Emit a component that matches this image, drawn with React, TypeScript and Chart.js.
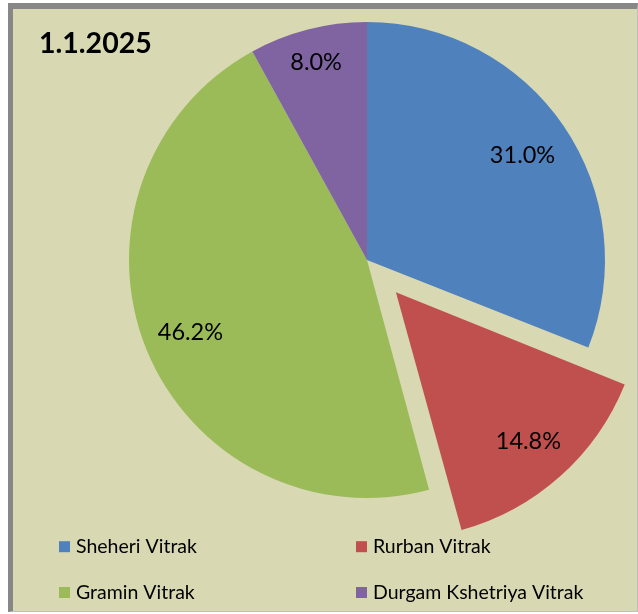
import React, { useEffect, useRef } from "react";
import { Chart, registerables } from "chart.js";

Chart.register(...registerables);

// ---- data ----
const TITLE = "1.1.2025";
const CATEGORIES = ["Sheheri Vitrak", "Rurban Vitrak", "Gramin Vitrak", "Durgam Kshetriya Vitrak"];
const SHARES = [31.0, 14.8, 46.2, 8.0];
const COLORS = ["#4F81BD", "#C0504D", "#9BBB59", "#8064A2"];
const EXPLODED = [false, true, false, false];

// ---- styles ----
const FONT = "Lato, 'Open Sans', sans-serif";
const BG = "#D8D9B2";
const LABEL_RADIUS = [0.79, 0.8, 0.8, 0.86];
const EXPLODE_PX = 173.6; // Chart.js v4 draws offset / 4
const PIE_RADIUS = 238;

const sliceLabels = {
  id: "sliceLabels",
  afterDatasetsDraw(chart: any) {
    const meta = chart.getDatasetMeta(0);
    const ctx = chart.ctx;
    const size = 23.5;
    ctx.save();
    ctx.font = `${size}px ${FONT}`;
    ctx.fillStyle = "#000";
    ctx.textAlign = "center";
    ctx.textBaseline = "alphabetic";
    meta.data.forEach((arc: any, i: number) => {
      const p = arc.getProps(["x", "y", "startAngle", "endAngle", "outerRadius"], true);
      const off = (arc.options.offset || 0) / 4;
      const circ = p.endAngle - p.startAngle;
      const fix = 1 - Math.sin(Math.min(Math.PI, circ));
      const shift = off * (1 + fix);
      const mid = (p.startAngle + p.endAngle) / 2;
      const r = shift + p.outerRadius * LABEL_RADIUS[i];
      const cx = p.x + Math.cos(mid) * r;
      const cy = p.y + Math.sin(mid) * r;
      ctx.fillText(SHARES[i].toFixed(1) + "%", cx, cy + size * 0.36);
    });
    ctx.restore();
  },
};

const titleAndLegend = {
  id: "titleAndLegend",
  afterDraw(chart: any) {
    const ctx = chart.ctx;
    ctx.save();
    ctx.fillStyle = "#000";
    ctx.textAlign = "left";
    ctx.textBaseline = "alphabetic";
    ctx.font = `bold 28.5px ${FONT}`;
    ctx.fillText(TITLE, 26, 43.5);

    const labels: string[] = chart.data.labels;
    const colors: string[] = chart.data.datasets[0].backgroundColor;
    const colX = [46, 343];
    const rowBase = [543.7, 589.5];
    ctx.font = `19.5px ${FONT}`;
    labels.forEach((lab, i) => {
      const col = i % 2;
      const row = Math.floor(i / 2);
      const x = colX[col];
      const base = rowBase[row];
      ctx.fillStyle = colors[i];
      ctx.fillRect(x, base - 11.5, 11, 11);
      ctx.fillStyle = "#000";
      ctx.fillText(lab, x + 17, base);
    });
    ctx.restore();
  },
};

export default function App() {
  const ref = useRef<HTMLCanvasElement | null>(null);

  useEffect(() => {
    if (!ref.current) return;
    const chart = new Chart(ref.current, {
      type: "pie",
      data: {
        labels: CATEGORIES,
        datasets: [
          {
            data: SHARES,
            backgroundColor: COLORS,
            borderWidth: 0,
            hoverOffset: 0,
            radius: PIE_RADIUS,
            offset: EXPLODED.map((e) => (e ? EXPLODE_PX : 0)),
          } as any,
        ],
      },
      options: {
        responsive: false,
        animation: false,
        events: [],
        layout: { padding: { left: 84, right: 0, top: 0, bottom: 100 } },
        plugins: {
          legend: { display: false },
          tooltip: { enabled: false },
          title: { display: false },
        },
      },
      plugins: [sliceLabels, titleAndLegend],
    });
    return () => chart.destroy();
  }, []);

  return (
    <div
      style={{
        position: "absolute",
        left: 8,
        top: 3,
        width: 624,
        height: 602,
        background: BG,
        borderLeft: "5px solid #878787",
        borderTop: "6px solid #878787",
        borderRight: "1px solid #BFBFBF",
        borderBottom: "1px solid #BFBFBF",
      }}
    >
      <canvas ref={ref} width={624} height={602} style={{ display: "block" }} />
    </div>
  );
}
